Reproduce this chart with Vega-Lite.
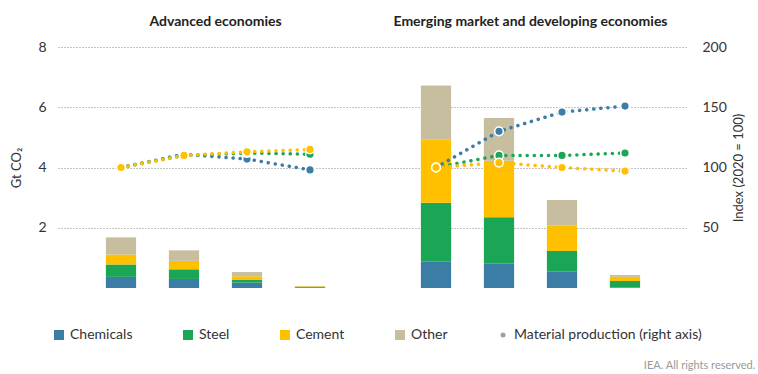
{
  "$schema": "https://vega.github.io/schema/vega-lite/v6.json",
  "background": "white",
  "padding": {"left": 10, "top": 15, "right": 2, "bottom": 2},
  "config": {
    "font": "Lato",
    "view": {"stroke": null},
    "axis": {"labelFont": "Lato", "titleFont": "Lato", "labelColor": "#333333", "titleColor": "#333333", "labelFontSize": 14, "titleFontSize": 13, "titleFontWeight": "normal"},
    "title": {"font": "Lato", "fontSize": 14, "fontWeight": "bold", "color": "#222222"}
  },
  "datasets": {
    "bars": [
      {"region": "Advanced", "year": 2020, "sector": "Chemicals", "value": 0.37},
      {"region": "Advanced", "year": 2020, "sector": "Steel", "value": 0.41},
      {"region": "Advanced", "year": 2020, "sector": "Cement", "value": 0.33},
      {"region": "Advanced", "year": 2020, "sector": "Other", "value": 0.57},
      {"region": "Advanced", "year": 2030, "sector": "Chemicals", "value": 0.30},
      {"region": "Advanced", "year": 2030, "sector": "Steel", "value": 0.32},
      {"region": "Advanced", "year": 2030, "sector": "Cement", "value": 0.28},
      {"region": "Advanced", "year": 2030, "sector": "Other", "value": 0.35},
      {"region": "Advanced", "year": 2040, "sector": "Chemicals", "value": 0.18},
      {"region": "Advanced", "year": 2040, "sector": "Steel", "value": 0.10},
      {"region": "Advanced", "year": 2040, "sector": "Cement", "value": 0.11},
      {"region": "Advanced", "year": 2040, "sector": "Other", "value": 0.14},
      {"region": "Advanced", "year": 2050, "sector": "Chemicals", "value": 0.01},
      {"region": "Advanced", "year": 2050, "sector": "Steel", "value": 0.03},
      {"region": "Advanced", "year": 2050, "sector": "Cement", "value": 0.02},
      {"region": "Advanced", "year": 2050, "sector": "Other", "value": 0.01},
      {"region": "Emerging", "year": 2020, "sector": "Chemicals", "value": 0.87},
      {"region": "Emerging", "year": 2020, "sector": "Steel", "value": 1.96},
      {"region": "Emerging", "year": 2020, "sector": "Cement", "value": 2.09},
      {"region": "Emerging", "year": 2020, "sector": "Other", "value": 1.80},
      {"region": "Emerging", "year": 2030, "sector": "Chemicals", "value": 0.82},
      {"region": "Emerging", "year": 2030, "sector": "Steel", "value": 1.53},
      {"region": "Emerging", "year": 2030, "sector": "Cement", "value": 1.87},
      {"region": "Emerging", "year": 2030, "sector": "Other", "value": 1.42},
      {"region": "Emerging", "year": 2040, "sector": "Chemicals", "value": 0.54},
      {"region": "Emerging", "year": 2040, "sector": "Steel", "value": 0.69},
      {"region": "Emerging", "year": 2040, "sector": "Cement", "value": 0.84},
      {"region": "Emerging", "year": 2040, "sector": "Other", "value": 0.85},
      {"region": "Emerging", "year": 2050, "sector": "Chemicals", "value": 0.02},
      {"region": "Emerging", "year": 2050, "sector": "Steel", "value": 0.21},
      {"region": "Emerging", "year": 2050, "sector": "Cement", "value": 0.14},
      {"region": "Emerging", "year": 2050, "sector": "Other", "value": 0.06}
    ],
    "prod": [
      {"region": "Advanced", "year": 2020, "material": "Chemicals", "index": 100},
      {"region": "Advanced", "year": 2030, "material": "Chemicals", "index": 111},
      {"region": "Advanced", "year": 2040, "material": "Chemicals", "index": 107},
      {"region": "Advanced", "year": 2050, "material": "Chemicals", "index": 98},
      {"region": "Advanced", "year": 2020, "material": "Steel", "index": 100},
      {"region": "Advanced", "year": 2030, "material": "Steel", "index": 110},
      {"region": "Advanced", "year": 2040, "material": "Steel", "index": 112},
      {"region": "Advanced", "year": 2050, "material": "Steel", "index": 111},
      {"region": "Advanced", "year": 2020, "material": "Cement", "index": 100},
      {"region": "Advanced", "year": 2030, "material": "Cement", "index": 110},
      {"region": "Advanced", "year": 2040, "material": "Cement", "index": 113},
      {"region": "Advanced", "year": 2050, "material": "Cement", "index": 115},
      {"region": "Emerging", "year": 2020, "material": "Chemicals", "index": 100},
      {"region": "Emerging", "year": 2030, "material": "Chemicals", "index": 130},
      {"region": "Emerging", "year": 2040, "material": "Chemicals", "index": 146},
      {"region": "Emerging", "year": 2050, "material": "Chemicals", "index": 151},
      {"region": "Emerging", "year": 2020, "material": "Steel", "index": 100},
      {"region": "Emerging", "year": 2030, "material": "Steel", "index": 110},
      {"region": "Emerging", "year": 2040, "material": "Steel", "index": 110},
      {"region": "Emerging", "year": 2050, "material": "Steel", "index": 112},
      {"region": "Emerging", "year": 2020, "material": "Cement", "index": 100},
      {"region": "Emerging", "year": 2030, "material": "Cement", "index": 104},
      {"region": "Emerging", "year": 2040, "material": "Cement", "index": 100},
      {"region": "Emerging", "year": 2050, "material": "Cement", "index": 97}
    ]
  },
  "title": {"text": "IEA. All rights reserved.", "orient": "bottom", "anchor": "end", "fontSize": 11, "fontWeight": "normal", "color": "#999999", "offset": 18, "dx": 10},
  "bounds": "flush",
  "spacing": 0,
  "resolve": {"scale": {"x": "independent", "y": "independent", "color": "shared"}},
  "hconcat": [
    {
      "title": {"text": "Advanced economies", "offset": 11},
      "width": 315,
      "height": 241,
      "resolve": {"scale": {"y": "independent"}},
      "layer": [
        {
          "data": {"name": "bars"},
          "transform": [{"filter": "datum.region == 'Advanced'"}, {"calculate": "indexof(['Chemicals','Steel','Cement','Other'], datum.sector)", "as": "stackorder"}],
          "mark": {"type": "bar"},
          "encoding": {
            "x": {"field": "year", "type": "ordinal", "scale": {"paddingInner": 0.52, "paddingOuter": 0.76},
                  "axis": {"title": null, "labelAngle": 0, "ticks": false, "domainColor": "#999999", "domainWidth": 1.5, "labelPadding": 8, "labelColor": "#222222"}},
            "y": {"field": "value", "type": "quantitative", "stack": "zero", "scale": {"domain": [0, 8]},
                  "axis": {"values": [2, 4, 6, 8], "title": "Gt CO₂", "grid": true, "gridDash": [1, 2], "gridColor": "#888888", "domain": false, "ticks": false, "labelPadding": 12, "titlePadding": 14}},
            "order": {"field": "stackorder", "type": "quantitative", "sort": "ascending"},
            "color": {"field": "sector", "type": "nominal",
                      "sort": ["Chemicals", "Steel", "Cement", "Other", "Material production (right axis)"],
                      "scale": {"domain": ["Chemicals", "Steel", "Cement", "Other", "Material production (right axis)"],
                                "range": ["#3B7DA5", "#1AA655", "#FFC000", "#C7BE9F", "#A0A0A0"]},
                      "legend": {"orient": "none", "legendX": -6, "legendY": 281, "direction": "horizontal", "title": null,
                                 "symbolType": "square", "symbolSize": 100, "symbolStrokeWidth": 0, "labelFontSize": 14, "labelFont": "Lato",
                                 "labelColor": "#333333", "columnPadding": 48, "labelOffset": 4, "labelLimit": 400,
                                 "encode": {"symbols": {"update": {
                                   "shape": {"signal": "datum.value == 'Material production (right axis)' ? 'circle' : 'square'"},
                                   "size": {"signal": "datum.value == 'Material production (right axis)' ? 25 : 100"}}}}}}
          }
        },
        {
          "data": {"name": "prod"},
          "transform": [{"filter": "datum.region == 'Advanced'"}],
          "mark": {"type": "line", "strokeWidth": 3.5, "strokeDash": [0.1, 7], "strokeCap": "round"},
          "encoding": {
            "x": {"field": "year", "type": "ordinal", "axis": null},
            "y": {"field": "index", "type": "quantitative", "scale": {"domain": [0, 200]}, "axis": null},
            "color": {"field": "material", "type": "nominal", "legend": null}
          }
        },
        {
          "data": {"name": "prod"},
          "transform": [{"filter": "datum.region == 'Advanced'"}],
          "mark": {"type": "point", "filled": true, "size": 75, "stroke": "white", "strokeWidth": 1.5, "opacity": 1},
          "encoding": {
            "x": {"field": "year", "type": "ordinal", "axis": null},
            "y": {"field": "index", "type": "quantitative", "scale": {"domain": [0, 200]}, "axis": null},
            "color": {"field": "material", "type": "nominal", "legend": null}
          }
        }
      ]
    },
    {
      "title": {"text": "Emerging market and developing economies", "offset": 11},
      "width": 315,
      "height": 241,
      "resolve": {"scale": {"y": "independent"}},
      "layer": [
        {
          "data": {"name": "bars"},
          "transform": [{"filter": "datum.region == 'Emerging'"}, {"calculate": "indexof(['Chemicals','Steel','Cement','Other'], datum.sector)", "as": "stackorder"}],
          "mark": {"type": "bar"},
          "encoding": {
            "x": {"field": "year", "type": "ordinal", "scale": {"paddingInner": 0.52, "paddingOuter": 0.76},
                  "axis": {"title": null, "labelAngle": 0, "ticks": false, "domainColor": "#999999", "domainWidth": 1.5, "labelPadding": 8, "labelColor": "#222222"}},
            "y": {"field": "value", "type": "quantitative", "stack": "zero", "scale": {"domain": [0, 8]},
                  "axis": {"values": [2, 4, 6, 8], "title": null, "labels": false, "grid": true, "gridDash": [1, 2], "gridColor": "#888888", "domain": false, "ticks": false, "minExtent": 0, "maxExtent": 0}},
            "order": {"field": "stackorder", "type": "quantitative", "sort": "ascending"},
            "color": {"field": "sector", "type": "nominal",
                      "sort": ["Chemicals", "Steel", "Cement", "Other", "Material production (right axis)"],
                      "legend": null}
          }
        },
        {
          "data": {"name": "prod"},
          "transform": [{"filter": "datum.region == 'Emerging'"}],
          "mark": {"type": "line", "strokeWidth": 3.5, "strokeDash": [0.1, 7], "strokeCap": "round"},
          "encoding": {
            "x": {"field": "year", "type": "ordinal", "axis": null},
            "y": {"field": "index", "type": "quantitative", "scale": {"domain": [0, 200]},
                  "axis": {"orient": "right", "values": [50, 100, 150, 200], "title": "Index (2020 = 100)", "grid": false, "domain": false, "ticks": false, "labelPadding": 14, "titlePadding": 19, "titleAngle": 270}},
            "color": {"field": "material", "type": "nominal", "legend": null}
          }
        },
        {
          "data": {"name": "prod"},
          "transform": [{"filter": "datum.region == 'Emerging'"}],
          "mark": {"type": "point", "filled": true, "size": 75, "stroke": "white", "strokeWidth": 1.5, "opacity": 1},
          "encoding": {
            "x": {"field": "year", "type": "ordinal", "axis": null},
            "y": {"field": "index", "type": "quantitative", "scale": {"domain": [0, 200]}, "axis": null},
            "color": {"field": "material", "type": "nominal", "legend": null}
          }
        }
      ]
    }
  ]
}
